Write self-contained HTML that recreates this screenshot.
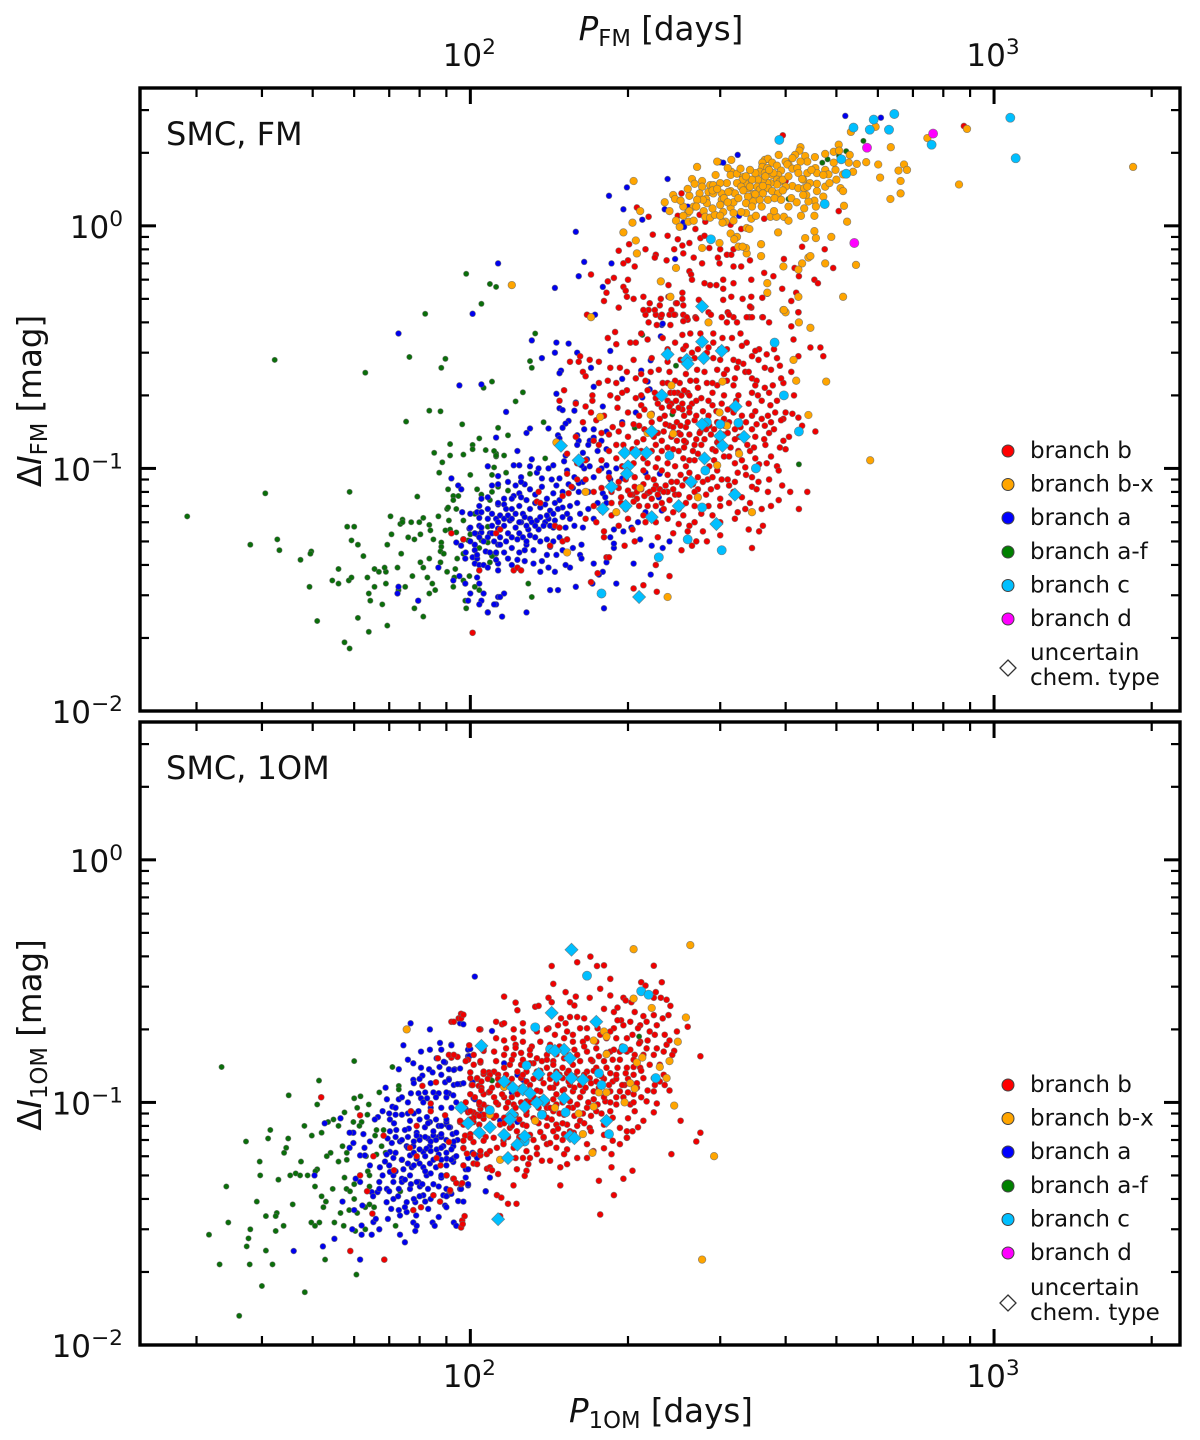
<!DOCTYPE html>
<html lang="en">
<head>
<meta charset="utf-8">
<title>SMC amplitude-period diagram</title>
<style>
html,body{margin:0;padding:0;background:#fff;}
svg{display:block;font-family:"DejaVu Sans","Liberation Sans",sans-serif;fill:#111;}
</style>
</head>
<body>
<svg id="chart" xmlns="http://www.w3.org/2000/svg" width="1200" height="1440" viewBox="0 0 1200 1440">
<rect x="0" y="0" width="1200" height="1440" fill="#fff"/>
<g id="marks-fm"></g>
<g id="marks-om"></g>
<g id="axes"></g>

<text x="661" y="40" font-size="32.500" text-anchor="middle"><tspan font-style="italic">P</tspan><tspan font-size="22.700" dy="6">FM</tspan><tspan dy="-6"> [days]</tspan></text>
<text x="661" y="1422" font-size="32.500" text-anchor="middle"><tspan font-style="italic">P</tspan><tspan font-size="22.700" dy="6">1OM</tspan><tspan dy="-6"> [days]</tspan></text>
<text transform="translate(41,401) rotate(-90)" font-size="32.500" text-anchor="middle">Δ<tspan font-style="italic">I</tspan><tspan font-size="22.700" dy="6">FM</tspan><tspan dy="-6"> [mag]</tspan></text>
<text transform="translate(41,1035) rotate(-90)" font-size="32.500" text-anchor="middle">Δ<tspan font-style="italic">I</tspan><tspan font-size="22.700" dy="6">1OM</tspan><tspan dy="-6"> [mag]</tspan></text>

<text x="166" y="145" font-size="32">SMC, FM</text>
<text x="166" y="779" font-size="32">SMC, 1OM</text>

<g font-size="23">
<g><circle cx="1008" cy="451" r="6" fill="#f00" stroke="#444" stroke-width="1"/><text x="1030" y="458">branch b</text></g>
<g><circle cx="1008" cy="484.500" r="6" fill="#ffa500" stroke="#444" stroke-width="1"/><text x="1030" y="491.500">branch b-x</text></g>
<g><circle cx="1008" cy="518" r="6" fill="#00f" stroke="#444" stroke-width="1"/><text x="1030" y="525">branch a</text></g>
<g><circle cx="1008" cy="552" r="6" fill="#008000" stroke="#444" stroke-width="1"/><text x="1030" y="559">branch a-f</text></g>
<g><circle cx="1008" cy="585.500" r="6" fill="#00bfff" stroke="#444" stroke-width="1"/><text x="1030" y="592.500">branch c</text></g>
<g><circle cx="1008" cy="619" r="6" fill="#f0f" stroke="#444" stroke-width="1"/><text x="1030" y="626">branch d</text></g>
<g><polygon points="1008,660 1016,668 1008,676 1000,668" fill="#fff" stroke="#333" stroke-width="1.300"/><text x="1030" y="660">uncertain</text><text x="1030" y="685">chem. type</text></g>
</g>
<g font-size="23">
<g><circle cx="1008" cy="1085" r="6" fill="#f00" stroke="#444" stroke-width="1"/><text x="1030" y="1092">branch b</text></g>
<g><circle cx="1008" cy="1118.500" r="6" fill="#ffa500" stroke="#444" stroke-width="1"/><text x="1030" y="1125.500">branch b-x</text></g>
<g><circle cx="1008" cy="1152" r="6" fill="#00f" stroke="#444" stroke-width="1"/><text x="1030" y="1159">branch a</text></g>
<g><circle cx="1008" cy="1186" r="6" fill="#008000" stroke="#444" stroke-width="1"/><text x="1030" y="1193">branch a-f</text></g>
<g><circle cx="1008" cy="1219.500" r="6" fill="#00bfff" stroke="#444" stroke-width="1"/><text x="1030" y="1226.500">branch c</text></g>
<g><circle cx="1008" cy="1253" r="6" fill="#f0f" stroke="#444" stroke-width="1"/><text x="1030" y="1260">branch d</text></g>
<g><polygon points="1008,1295 1016,1303 1008,1311 1000,1303" fill="#fff" stroke="#333" stroke-width="1.300"/><text x="1030" y="1295">uncertain</text><text x="1030" y="1320">chem. type</text></g>
</g>
</svg>

<script>
// Tick values
const xMajorTicks = [100, 1000];
const xMinorTicks = [30, 40, 50, 60, 70, 80, 90, 200, 300, 400, 500, 600, 700, 800, 900, 2000];
const yMajorTicks = [1, 0.1, 0.01];
const yMinorTicks = [3, 2, 0.9, 0.8, 0.7, 0.6, 0.5, 0.4, 0.3, 0.2, 0.09, 0.08, 0.07, 0.06, 0.05, 0.04, 0.03, 0.02];
const xTickExponents = ['2', '3'];
const yTickExponents = ['0', '\u22121', '\u22122'];

// FM panel: [period in days, amplitude in mag]
const fmBranchAF = [[28.8,.0634],[38,.0485],[40.6,.079],[42.8,.051],[43.2,.046],[42.3,.28],[47.4,.042],[49.7,.0455],[49.5,.0445],[49.3,.0325],[51,.0235],[57.5,.0192],[58.8,.0181],[64,.0212],[61,.0242],[69.4,.0225],[56,.0385],[54.5,.0345],[56,.0335],[58.6,.0345],[59.3,.0355],[58.2,.0575],[60,.0575],[59.3,.0505],[61,.0485],[62.5,.0435],[58.8,.08],[63,.248],[63.6,.0355],[65.6,.0325],[64,.0305],[64.4,.0285],[67.9,.0275],[69,.0335],[69,.0375],[66.9,.0375],[65.6,.0385],[68.6,.039],[72.6,.039],[69.4,.0485],[70.7,.0535],[70.4,.0635],[73.8,.0445],[74.2,.0615],[73.5,.059],[74.2,.06],[77.1,.06],[79.9,.06],[76.1,.052],[78.2,.051],[80.3,.0535],[81.3,.0625],[79.2,.0765],[75.1,.0325],[72.9,.0315],[77.5,.036],[80.3,.041],[81.3,.039],[83.5,.0425],[78.2,.0265],[81.3,.0245],[82.8,.0355],[84.6,.0335],[85.7,.0315],[83.5,.0305],[82,.434],[76.5,.288],[89.6,.283],[88,.26],[83.5,.173],[87.7,.172],[75.4,.156],[96.5,.152],[98.2,.634],[109,.576],[112,.56],[105,.477],[106,.215],[110,.228],[113,.147],[104,.133],[101,.125],[101,.12],[91.5,.126],[85.3,.116],[91.5,.113],[97,.114],[107,.119],[112,.115],[112,.112],[88.4,.106],[87.2,.096],[100,.094],[111,.101],[110,.094],[90.7,.082],[92.8,.077],[92.8,.074],[94.9,.077],[103,.082],[105,.078],[110,.08],[113,.084],[109,.074],[90.3,.068],[90.7,.069],[94,.068],[86.9,.0635],[91,.061],[97,.061],[102,.065],[83.5,.0585],[83.9,.0555],[85,.051],[89.6,.0555],[91.5,.056],[94,.0545],[100,.0535],[99.1,.0505],[88,.0495],[88,.0475],[87.7,.0455],[89,.0445],[94.4,.0425],[87.7,.041],[97,.0445],[90.3,.0375],[93.6,.0385],[92.8,.0325],[93.2,.0355],[97,.0345],[99.6,.036],[102,.0325],[104,.0315],[97.8,.0285],[98.2,.0265],[105,.0505],[108,.0495],[104,.047],[110,.044],[109,.041],[133,.36],[130,.277],[131,.26],[126,.206],[122,.189],[138,.155],[118,.137],[111,.118],[112,.113],[116,.113],[139,.11],[117,.096],[130,.095],[118,.081],[108,.0575],[110,.0435],[112,.0445],[129,.0335],[131,.0295],[424,.104],[243,.167],[247,.265],[206,.147],[213,.355],[405,1.29],[470,1.82],[481,1.88],[506,1.94],[522,2.03],[563,2.24]];
const fmBranchA = [[113,.7],[101,.434],[72.9,.36],[95.3,.22],[105,.222],[112,.134],[108,.102],[113,.093],[92,.091],[94.8,.085],[96.1,.082],[113,.086],[108,.076],[113,.071],[96.5,.066],[103,.066],[105,.066],[104,.0625],[104,.058],[105,.0545],[103,.0535],[99.6,.0565],[110,.058],[109,.054],[113,.0565],[94,.0495],[102,.0485],[102,.046],[107,.0455],[113,.0485],[112,.045],[101,.043],[103,.0425],[102,.0405],[104,.04],[106,.04],[108,.039],[113,.0405],[113,.038],[97.8,.0425],[86.9,.039],[95.3,.036],[92.8,.0345],[97.8,.0335],[104,.0335],[103,.0355],[106,.0305],[100,.0305],[72.9,.0325],[72.6,.0305],[79.5,.0285],[99,.0285],[105,.0285],[104,.0275],[113,.0295],[112,.0275],[108,.0255],[131,.337],[146,.33],[154,.327],[145,.3],[137,.285],[160,.3],[149,.253],[148,.247],[170,.26],[117,.171],[172,.217],[195,.234],[221,.279],[185,.305],[212,.253],[231,.35],[232,.39],[218,.228],[220,.212],[146,.203],[148,.177],[150,.174],[159,.187],[158,.173],[179,.18],[207,.17],[213,.196],[141,.146],[130,.146],[128,.14],[154,.157],[152,.153],[150,.147],[147,.137],[148,.133],[160,.137],[161,.13],[172,.134],[169,.13],[182,.142],[195,.155],[123,.118],[152,.113],[151,.107],[175,.118],[182,.12],[164,.116],[167,.109],[169,.102],[121,.103],[124,.103],[131,.109],[130,.102],[144,.103],[141,.1],[153,.098],[184,.096],[182,.103],[216,.096],[230,.095],[195,.091],[125,.092],[127,.086],[125,.088],[134,.096],[137,.091],[137,.084],[130,.082],[146,.085],[148,.091],[154,.086],[157,.083],[164,.088],[161,.087],[144,.079],[150,.08],[161,.08],[168,.08],[124,.079],[121,.077],[125,.076],[113,.072],[116,.071],[120,.075],[133,.072],[139,.071],[148,.074],[179,.079],[181,.076],[182,.072],[229,.076],[150,.069],[153,.065],[142,.067],[144,.065],[136,.069],[126,.065],[130,.062],[122,.065],[117,.068],[114,.064],[112,.062],[116,.062],[119,.061],[125,.06],[134,.061],[139,.06],[141,.062],[100,.057],[102,.054],[105,.057],[110,.054],[114,.056],[118,.054],[123,.051],[129,.056],[130,.053],[135,.056],[140,.051],[142,.048],[144,.057],[152,.057],[164,.057],[188,.056],[196,.055],[203,.057],[209,.06],[211,.051],[240,.05],[232,.067],[222,.048],[233,.047],[216,.066],[114,.0485],[118,.0425],[123,.042],[128,.0485],[132,.046],[127,.0415],[132,.0405],[142,.0475],[137,.0415],[141,.039],[136,.0375],[145,.0375],[157,.047],[163,.0485],[162,.044],[163,.0425],[155,.039],[152,.04],[172,.0405],[182,.041],[179,.0375],[188,.047],[188,.049],[185,.052],[205,.0405],[221,.0365],[176,.0365],[190,.0335],[171,.0335],[159,.0325],[142,.0315],[147,.0315],[116,.0305],[114,.0295],[111,.0275],[108,.0255],[115,.0245],[128,.0255],[180,.0265],[520,2.84],[608,2.79],[324,1.96],[300,1.83],[304,1.82],[238,1.56],[184,1.33],[199,1.44],[196,1.17],[235,1.17],[213,1.06],[159,.945],[165,.71],[161,.62],[145,.555],[186,.7],[179,.56],[246,.73],[260,1.2],[255,1.03],[256,.99],[326,1.1],[173,.43],[233,.395],
[104,.07],[108,.068],[110,.065],[113,.06],[116,.058],[118,.064],[120,.062],[122,.057],[124,.06],[127,.063],[128,.058],[131,.06],[133,.058],[136,.063],[138,.058],[142,.058],[145,.061],[147,.068],[150,.063],[155,.062],[158,.058],[162,.065],[108,.052],[111,.05],[114,.052],[117,.05],[120,.052],[124,.054],[126,.052],[128,.05],[133,.052],[136,.05],[144,.05],[148,.052],[120,.047],[124,.045],[127,.046],[116,.045],[112,.042],[109,.045],[120,.04],[140,.044],[146,.044],[150,.046],[104,.052],[108,.062],[116,.075],[124,.07],[128,.074],[133,.078],[140,.075],[145,.072],[155,.07],[160,.072],[168,.068],[175,.072],[172,.062],[120,.068],[130,.068],[140,.064],[185,.09],[178,.1],[172,.092],[190,.1],[165,.1],[158,.092],[163,.103],[135,.1],[143,.09],[122,.085],[118,.088],[110,.085],[105,.075],[100,.065],[100,.05],[106,.05],[98,.045],[96,.048],[103,.044],[160,.125],[168,.125],[178,.13],[172,.145],[165,.145]];
const fmBranchB = [[395,2.36],[876,2.58],[253,1.36],[285,1.37],[281,1.29],[271,1.29],[208,1.19],[219,1.09],[249,1.1],[274,1.11],[281,1.04],[314,1.01],[269,.97],[329,.97],[400,1.53],[505,1.15],[364,1.07],[223,.92],[238,.91],[249,.88],[201,.84],[192,.79],[216,.8],[226,.76],[225,.74],[200,.72],[196,.7],[206,.68],[237,.72],[245,.8],[254,.83],[255,.77],[267,.74],[262,.85],[275,.89],[280,.91],[286,.81],[300,.8],[318,.8],[297,.74],[299,.7],[277,.7],[309,.76],[315,.76],[318,.68],[329,.68],[342,.72],[397,.73],[430,.82],[475,.8],[493,.67],[416,.67],[424,.62],[454,.6],[461,.58],[364,.64],[379,.62],[344,.6],[304,.6],[318,.58],[262,.65],[264,.63],[265,.6],[280,.58],[287,.57],[295,.57],[304,.55],[170,.63],[188,.61],[183,.59],[200,.6],[196,.56],[198,.54],[199,.51],[182,.53],[180,.49],[205,.5],[192,.46],[214,.51],[220,.48],[219,.45],[216,.43],[230,.47],[231,.5],[239,.57],[239,.51],[247,.48],[255,.47],[254,.53],[254,.5],[226,.43],[231,.42],[240,.43],[246,.43],[255,.43],[260,.41],[269,.42],[273,.495],[285,.44],[288,.43],[304,.495],[315,.51],[331,.5],[344,.51],[344,.46],[361,.505],[369,.525],[394,.55],[419,.53],[410,.49],[423,.44],[310,.44],[318,.42],[302,.42],[341,.42],[361,.42],[167,.43],
[214,.45],[225,.45],[242,.45],[248,.48],[259,.42],[255,.405],[270,.415],[245,.43],[232,.43],[312,.43],[323,.4],[309,.4],[328,.36],[316,.345],[303,.345],[291,.33],[291,.36],[275,.36],[263,.36],[254,.355],[241,.39],[227,.39],[219,.4],[202,.33],[207,.33],[189,.365],[190,.325],[183,.345],[212,.36],[218,.34],[233,.345],[246,.33],[255,.31],[265,.3],
[342,.465],[362,.42],[372,.4],[337,.42],[345,.42],[410,.385],[423,.44],[414,.34],[446,.315],[466,.315],[472,.29],[423,.29],[337,.33],[368,.295],[356,.31],[345,.29],[332,.27],[318,.28],[309,.31],[291,.285],[283,.3],[272,.31],[271,.255],[296,.255],[309,.255],[323,.26],[335,.25],[365,.26],[390,.265],[345,.235],[378,.22],[365,.215],[354,.2],[396,.225],[318,.22],[309,.23],[296,.22],[283,.225],[272,.215],[263,.23],[251,.225],[241,.205],[249,.205],[260,.205],[233,.225],[221,.25],[229,.255],[207,.235],[199,.25],[193,.26],[183,.23],[176,.225],[169,.28],[176,.275],[162,.29],[155,.275],[161,.275],[164,.25],[166,.24],[151,.21],[148,.19],[171,.2],[171,.19],[185,.2],[191,.195],[199,.21],[207,.195],[218,.21],[226,.195],[238,.19],
[159,.185],[166,.18],[191,.178],[200,.17],[212,.182],[222,.168],[232,.178],[242,.185],[254,.175],[265,.185],[278,.172],[290,.182],[300,.17],[316,.178],[330,.165],[350,.172],[374,.182],[396,.16],[370,.165],[412,.168],[423,.162],
[164,.155],[174,.158],[187,.148],[205,.152],[215,.145],[230,.16],[240,.15],[248,.155],[258,.148],[268,.158],[286,.15],[292,.145],[312,.155],[328,.148],[352,.152],[380,.145],[392,.158],[456,.142],[430,.15],
[159,.135],[172,.13],[184,.138],[196,.125],[208,.128],[224,.135],[238,.122],[248,.13],[262,.138],[268,.125],[280,.132],[296,.128],[304,.138],[314,.122],[326,.135],[338,.125],[364,.132],[390,.122],[406,.135],[258,.128],[234,.142],[250,.14],[275,.142],[290,.12],
[153,.115],[166,.108],[184,.118],[195,.102],[214,.11],[238,.105],[250,.118],[262,.108],[272,.115],[286,.102],[305,.112],[320,.105],[342,.118],[356,.104],[375,.112],[385,.102],[222,.118],[255,.11],[282,.11],[226,.101],[240,.114],[335,.101],
[153,.095],[166,.09],[176,.098],[192,.088],[218,.092],[232,.098],[242,.088],[252,.094],[272,.092],[296,.098],[310,.09],[336,.094],[355,.088],[388,.098],[262,.096],[284,.09],[200,.096],[324,.096],
[156,.084],[172,.08],[192,.083],[204,.078],[214,.086],[222,.075],[230,.082],[246,.078],[254,.085],[262,.076],[288,.082],[300,.075],[312,.085],[330,.076],[345,.084],[370,.08],[394,.085],[388,.074],[408,.08],[440,.08],[238,.08],[206,.084],[218,.079],[226,.085],[240,.074],[208,.075],[272,.082],
[134,.073],[172,.07],[178,.067],[194,.072],[214,.064],[226,.07],[244,.066],[258,.072],[276,.065],[300,.07],[324,.066],[342,.072],[360,.068],[375,.07],[210,.07],[232,.072],
[145,.058],[174,.06],[180,.055],[192,.058],[204,.056],[226,.06],[244,.054],[262,.058],[278,.055],[300,.06],[340,.056],[356,.055],[250,.059],
[150,.05],[180,.052],[197,.048],[206,.05],[228,.052],[253,.046],[265,.048],[283,.05],[300,.053],[345,.047],[424,.068],[270,.05],[260,.055],[97,.051],[135,.08],[136,.072],[114,.056],[121,.038],[123,.039],[104,.038],[150,.077],[154,.079],[142,.048],[148,.057],[153,.051],[125,.038],[101,.021],[92,.054],[97,.051],[112,.054],[182,.043],[184,.043],[175,.037],[170,.034],[205,.032],[214,.033],[226,.04],[227,.031],[240,.036],
[238,.31],[258,.32],[285,.315],[300,.31],[330,.32],[350,.305],[380,.31],[205,.28],[222,.285],[238,.275],[252,.28],[268,.285],[300,.28],[325,.275],[355,.28],[385,.285],[185,.26],[212,.245],[240,.25],[258,.245],[280,.25],[305,.245],[340,.25],[375,.255],[410,.25],[190,.225],[216,.23],[238,.225],[246,.23],[270,.23],[290,.225],[320,.235],[352,.23],[392,.235],[350,.22],[195,.205],[212,.2],[225,.205],[245,.205],[253,.2],[256,.21],[262,.2],[276,.195],[290,.205],[305,.2],[325,.2],[345,.205],[372,.205],[415,.2],[228,.185],[240,.18],[247,.19],[250,.178],[254,.185],[262,.178],[270,.19],[285,.19],[302,.185],[310,.175],[322,.19],[340,.185],[360,.19],[385,.19],[215,.175],[170,.17],[180,.165],[210,.165],[235,.165],[244,.172],[256,.165],[262,.17],[270,.165],[285,.165],[295,.172],[305,.16],[318,.17],[345,.165],[360,.16],[382,.17],[400,.17],[195,.152],[210,.15],[222,.155],[236,.152],[244,.148],[252,.15],[260,.155],[276,.152],[282,.145],[296,.155],[306,.15],[320,.145],[336,.155],[345,.145],[365,.15],[375,.155],[178,.14],[192,.142],[200,.135],[214,.132],[228,.14],[232,.13],[242,.135],[252,.138],[256,.13],[270,.132],[274,.14],[288,.138],[298,.13],[310,.14],[320,.132],[350,.135],[372,.14],[396,.13],[176,.125],[190,.125],[204,.12],[212,.118],[226,.125],[232,.118],[244,.12],[256,.122],[266,.118],[276,.125],[294,.118],[302,.124],[325,.118],[348,.122],[366,.125],[400,.12],[160,.105],[178,.108],[190,.11],[205,.105],[218,.105],[228,.11],[246,.102],[258,.102],[268,.108],[292,.108],[312,.112],[330,.108],[350,.11],[368,.105],[160,.09],[184,.092],[198,.09],[206,.092],[214,.098],[224,.09],[238,.094],[248,.088],[258,.09],[266,.086],[278,.088],[290,.092],[302,.09],[320,.088],[345,.092],[372,.09],[178,.083],[186,.08],[194,.076],[200,.081],[202,.078],[208,.08],[212,.082],[215,.077],[220,.08],[224,.082],[228,.078],[234,.08],[236,.085],[244,.082],[250,.078],[268,.08],[282,.078],[296,.084],[318,.08],[352,.082],[186,.072],[198,.068],[205,.073],[218,.07],[234,.068],[250,.068],[268,.07],[285,.07],[312,.072],[335,.068],[166,.062],[186,.064],[200,.062],[216,.06],[238,.062],[255,.064],[268,.06],[290,.064],[320,.062],[362,.058]];
const fmBranchBX = [[1843,1.75],[888,2.51],[857,1.48],[746,2.3],[635,2.11],[594,2.56],[533,2.44],[601,1.79],[570,1.83],[673,1.79],[682,1.7],[657,1.69],[663,1.53],[606,1.58],[663,1.36],[634,1.29],[505,2.16],[494,2.02],[506,2.04],[530,1.96],[528,1.82],[547,1.8],[538,1.67],[515,1.63],[494,1.82],[476,1.98],[455,1.92],[427,2.11],[425,2.04],[417,1.96],[412,1.9],[436,1.94],[388,1.96],[440,1.84],[427,1.84],[400,1.84],[405,1.79],[365,1.87],[370,1.89],[361,1.82],[377,1.82],[385,1.77],[361,1.75],[369,1.73],[392,1.69],[357,1.67],[365,1.65],[377,1.62],[387,1.62],[403,1.79],[412,1.72],[421,1.73],[423,1.65],[440,1.65],[456,1.73],[459,1.65],[476,1.7],[483,1.63],[472,1.62],[432,1.55],[430,1.56],[459,1.49],[476,1.45],[459,1.39],[509,1.43],[515,1.39],[472,1.32],[454,1.27],[442,1.26],[457,1.2],[517,1.21],[434,1.18],[428,1.1],[454,1.1],[524,1.04],[412,1.46],[423,1.43],[434,1.43],[438,1.34],[432,1.34],[379,1.65],[385,1.55],[390,1.52],[385,1.48],[374,1.5],[369,1.5],[362,1.55],[354,1.55],[353,1.45],[357,1.41],[370,1.43],[377,1.39],[387,1.36],[362,1.36],[347,1.35],[339,1.43],[335,1.5],[345,1.55],[315,1.67],[314,1.62],[323,1.64],[332,1.59],[331,1.55],[323,1.5],[314,1.39],[320,1.36],[329,1.45],[339,1.32],[347,1.26],[357,1.28],[370,1.28],[381,1.3],[392,1.28],[277,1.53],[277,1.45],[287,1.47],[291,1.47],[294,1.62],[265,1.56],[268,1.49],[274,1.36],[282,1.29],[285,1.38],[291,1.36],[302,1.36],[311,1.38],[309,1.5],[302,1.28],[300,1.22],[283,1.24],[278,1.28],[271,1.28],[262,1.33],[244,1.34],[246,1.29],[336,1.24],[336,1.13],[315,1.87],[310,1.73],[271,1.75],[296,1.84],[279,1.15],[281,1.09],[287,1.08],[293,1.11],[304,1.14],[314,1.19],[318,1.13],[307,1.04],[303,1.03],[329,1.14],[255,1.2],[267,1.2],[260,1.13],[247,1.05],[261,1.04],[267,1.05],[251,.99],[344,1.07],[351,1.1],[374,1.09],[384,1.09],[397,1.09],[405,1.05],[337,.98],[341,.97],[314,.93],[323,.9],[319,.88],[299,.85],[387,.94],[359,.84],[436,.89],[457,.89],[454,.95],[489,.9],[211,1.15],[204,1.03],[196,.94],[207,.87],[205,1.53],[208,.77],[247,.67],[231,.59],[241,.51],[325,.82],[337,.77],[336,.81],[331,.82],[277,.81],[359,.75],[396,.68],[430,.7],[442,.74],[446,.75],[476,.7],[545,.69],[423,.66],[369,.58],[369,.53],[515,.51],[423,.51],[396,.45],[400,.44],[424,.4],[446,.38],[285,.4],[120,.57],[170,.42],[397,.45],[414,.28],[419,.23],[478,.228],[303,.228],[242,.22],[299,.17],[442,.166],[177,.163],[221,.166],[309,.15],[244,.139],[218,.14],[326,.115],[296,.103],[211,.083],[166,.08],[272,.076],[345,.066],[190,.066],[146,.128],[153,.045],[238,.0295],[580,.108],
[300,1.5],[290,1.4],[296,1.42],[305,1.3],[318,1.25],[325,1.3],[332,1.4],[342,1.45],[350,1.35],[362,1.46],[366,1.6],[372,1.7],[350,1.65],[342,1.7],[336,1.6],[328,1.72],[395,1.55],[405,1.6],[400,1.45],[410,1.3],[420,1.25],[395,1.4],[445,1.5],[448,1.7],[440,1.45],[485,1.5],[498,1.7],[500,1.55],[270,1.2],[262,1.15],[255,1.1],[300,1.1],[290,1.18],[310,1.25],[318,1.05],[345,1.2],[360,1.2],[380,1.15],[405,1.2],[260,1.42],[252,1.27],[240,1.15],[235,1.25]];
const fmBranchC = [[389,2.26],[539,2.54],[589,2.74],[579,2.49],[630,2.49],[645,2.89],[1074,2.79],[1100,1.9],[760,2.16],[475,1.23],[511,1.88],[522,1.64],[288,.88],[381,.33],[397,.2],[325,.154],[424,.142],[300,.152],[283,.155],[281,.098],[351,.1],[277,.069],[260,.051],[302,.046],[229,.043],[178,.0305],[240,.113]];
const fmBranchD = [[572,2.1],[765,2.4],[541,.85]];
const fmUncertainC = [[277,.465],[277,.333],[302,.305],[238,.295],[259,.28],[260,.27],[279,.285],[232,.2],[321,.18],[277,.152],[222,.142],[300,.136],[333,.135],[303,.124],[149,.124],[280,.11],[161,.108],[197,.116],[207,.116],[217,.116],[200,.102],[199,.095],[264,.088],[186,.084],[320,.078],[179,.068],[198,.07],[250,.07],[222,.063],[295,.059],[210,.0295]];

// 1OM panel: [period in days, amplitude in mag]
const omBranchAF = [[33.5,.14],[31.7,.0285],[34.2,.045],[37.3,.069],[41.5,.077],[41.1,.071],[45,.107],[51.4,.123],[51,.098],[60,.148],[71,.14],[67,.11],[73,.117],[73,.113],[61.7,.106],[60,.104],[64,.098],[60.8,.095],[63.6,.089],[57.5,.091],[54.8,.085],[53.5,.083],[56,.08],[48.2,.08],[59.8,.083],[62,.083],[61.4,.08],[52,.075],[49.8,.073],[44.9,.071],[44.5,.065],[44.1,.062],[39.6,.057],[39.7,.05],[43,.048],[47.5,.057],[45.3,.05],[46.4,.051],[47.3,.05],[48.9,.05],[51,.053],[50.6,.052],[50.5,.045],[54.1,.062],[53.2,.06],[56,.057],[57,.066],[58.1,.062],[58.1,.058],[59.5,.075],[66.2,.077],[68.3,.077],[65.8,.073],[67.7,.066],[68.9,.062],[66.2,.061],[63.2,.06],[63.7,.052],[64.2,.05],[64.2,.045],[57.5,.049],[54.6,.044],[58,.044],[58.9,.043],[60,.046],[52,.041],[53,.039],[52.4,.037],[45.8,.038],[39.1,.039],[42.7,.035],[42.5,.034],[40.7,.034],[34.5,.032],[38,.03],[42.5,.0295],[44,.031],[49.7,.032],[50.5,.031],[51.5,.032],[55,.032],[57.3,.031],[37.7,.0275],[37.4,.0255],[40.7,.0245],[33.2,.0215],[37.9,.0215],[41.9,.0215],[52.8,.0225],[60.6,.0195],[40,.0175],[48.3,.0165],[36.2,.0132],[56.5,.035],[58.7,.036],[60,.04],[60.8,.035],[63,.037],[64.2,.038],[65.5,.037],[63,.03],[60.3,.0295],[72,.031],[73.5,.043],[109,.125],[210,.187],[110,.123]];
const omBranchA = [[76.9,.212],[83.7,.2],[95.6,.212],[74.5,.172],[80.5,.162],[83.7,.165],[87.5,.176],[88,.165],[92,.173],[99,.165],[76,.15],[77.8,.145],[80.5,.139],[86.2,.152],[89.5,.146],[87.3,.14],[91,.137],[93.3,.137],[95.6,.138],[99,.155],[73,.137],[83.4,.137],[84.7,.133],[81,.129],[77.8,.124],[78,.12],[91,.125],[89.5,.121],[93,.118],[95.6,.119],[101.4,.104],[68.9,.115],[77,.109],[79.6,.109],[85,.11],[87,.109],[91,.109],[92.8,.107],[80.5,.104],[82.7,.104],[81.3,.1],[69.3,.103],[71,.096],[73,.103],[68,.092],[66.6,.087],[65.7,.085],[72,.089],[74,.089],[56.5,.086],[52.7,.082],[70.2,.085],[71.5,.082],[76.7,.084],[76.3,.078],[75,.077],[72.2,.077],[70.2,.076],[62.5,.074],[59.8,.075],[58.8,.075],[64.3,.069],[62.8,.065],[59.8,.068],[58.8,.065],[79.6,.092],[82.6,.087],[83.7,.083],[87,.08],[90.1,.081],[91.5,.079],[81.9,.079],[79,.075],[80.1,.072],[83,.071],[85,.073],[87,.072],[92.5,.074],[94.5,.07],[92.8,.066],[69.5,.071],[70.8,.068],[73.4,.069],[70.2,.0625],[75.6,.066],[77.8,.066],[83.7,.066],[86.2,.064],[88.8,.066],[61.6,.0605],[62.9,.0605],[64.3,.055],[67.2,.054],[69.2,.061],[68.7,.057],[71.3,.059],[74,.058],[76.7,.0605],[79,.0586],[81.3,.0625],[82.5,.0645],[90.1,.0586],[92.8,.0568],[98,.053],[83.7,.056],[81.3,.054],[77.3,.054],[74.5,.053],[71.3,.052],[71.3,.05],[70.2,.0517],[74,.0485],[76.7,.05],[79.6,.047],[82.5,.05],[80.1,.045],[76.7,.044],[74,.047],[71.3,.047],[67,.047],[61.6,.047],[60.4,.0485],[64.8,.0427],[66.5,.0427],[69.3,.044],[57,.039],[60,.036],[62.2,.0376],[65.2,.041],[69.2,.0388],[71.3,.04],[72.8,.041],[70.6,.0364],[73.4,.0342],[75.6,.0353],[78.8,.0342],[75.6,.0388],[78.5,.0388],[81.3,.0414],[85,.0414],[88.8,.0414],[90.5,.0414],[89.5,.0376],[83.1,.0364],[87,.0337],[84.7,.032],[85.5,.031],[93,.032],[94.8,.0392],[77.8,.032],[79,.031],[78.5,.0295],[73.4,.0285],[75,.0265],[64.8,.0285],[62,.0311],[62,.0285],[67,.03],[59.5,.03],[65.3,.0321],[66,.0331],[69.6,.0331],[55,.0274],[52.3,.0255],[46,.0244],[61.6,.0225],[50.4,.05],[107,.043],[99,.059],[102.5,.0605],[99,.0455],[95.6,.044],
[102,.33],[97,.21],[110,.197],[92,.172],[100,.166],[99.6,.155],[98.7,.15],[89,.147],[93,.136],[91,.124],[94.5,.119],[97,.12],[101,.121],[102,.103],[98,.094],[90,.105],[105,.089],[114,.084],[123,.083],[96,.083],[91,.079],[90,.083],[94,.075],[88,.072],[93,.069],[88,.065],[97,.065],[101,.062],[93,.059],[103,.059],[99,.053],[98,.049],[88,.049],[90,.05],[99,.046],[90,.044],[92,.042],[96,.044],[97,.039],[90,.041],[90,.037],[94,.031],[109,.049],[107,.043],[116,.145],[120,.11],[118,.1],[123,.13],[126,.124],
[72,.072],[74,.07],[76,.072],[78,.069],[79,.073],[80,.07],[82,.072],[84,.069],[85,.076],[86,.07],[88,.074],[90,.07],[76,.065],[78,.062],[80,.064],[82,.06],[84,.063],[85,.058],[87,.061],[88,.058],[72,.062],[74,.058],[76,.056],[78,.055],[80,.056],[82,.052],[84,.051],[86,.054],[88,.05],[70,.055],[72,.052],[68,.05],[75,.048],[77,.046],[79,.047],[81,.046],[83,.044],[85,.046],[87,.045],[73,.044],[70,.043],[67,.044],[78,.04],[80,.041],[82,.039],[84,.04],[75,.037],[73,.036],[90,.062],[92,.064],[94,.06],[90,.055],[92,.058],[88,.08],[90,.085],[86,.085],[83,.082],[80,.085],[78,.09],[76,.09],[72,.095],[70,.09],[84,.095],[88,.095],[92,.095],[94,.1],[90,.11],[86,.105],[82,.11],[76,.1],[74,.105],[80,.125],[84,.12],[88,.13]];
const omBranchB = [[92,.215],[96,.232],[95,.222],[104.5,.2],[51.9,.105],[61.6,.0885],[77,.092],[68.3,.073],[79,.08],[76.7,.065],[65.3,.06],[79,.06],[71.5,.0525],[61.6,.05],[86.2,.059],[87.7,.055],[92.8,.0485],[96,.046],[90.1,.05],[91.5,.043],[87.5,.039],[85,.0414],[63.5,.043],[65,.0348],[77.8,.036],[80.5,.037],[96.5,.0326],[96,.0305],[59,.0244],[68.5,.0225],[81,.117],[86,.121],[84,.092],[84,.099],[86.7,.152],[92,.153],[94.5,.154],[99.5,.172],[106,.163],[99,.15],[104.5,.146],[100,.133],[103,.125],[106,.131],[100.6,.118],[103.8,.117],[99,.091],[101.4,.091],[104.5,.094],[106,.0857],[101.4,.083],[95.6,.083],[97.7,.073],[101.4,.0687],[98.5,.0615],[101.4,.056],[104.5,.0605],[97,.055],[107,.072],[108.5,.133],[108.5,.11],[107.6,.0533],[91,.0687],[89.5,.0885],
[169.5,.399],[143,.365],[160,.378],[174.5,.365],[180,.367],[224,.366],[185,.323],[144,.308],[212,.313],[216,.303],[232,.313],[177,.294],[152,.285],[185,.276],[226,.285],[116,.273],[122,.258],[141,.27],[143,.259],[155,.259],[159,.273],[158,.251],[169,.27],[196,.27],[198,.263],[231,.27],[237,.265],[241,.25],[224,.27],[123,.24],[133,.248],[135,.25],[93,.215],[96,.222],[97,.23],[112,.215],[115,.21],[116,.212],[126,.212],[121,.2],[104,.2],[141,.202],[147,.208],[152,.212],[149,.222],[155,.225],[160,.225],[165,.222],[180,.243],[188,.236],[191,.246],[203,.259],[206,.236],[214,.227],[224,.229],[233,.222],[239,.229],[260,.205],[248,.196],[217,.215],[211,.208],[202,.215],[194,.218],[191,.218],
[153,.196],[162,.202],[167,.202],[175,.202],[188,.202],[196,.208],[209,.202],[227,.208],[220,.196],[204,.19],[185,.196],[177,.19],[167,.184],[157,.19],[151,.184],[145,.19],[140,.2],[134,.196],[126,.196],[121,.184],[116,.18],[112,.184],[106,.167],[111,.162],[101.5,.157],[104.5,.148],[91,.157],[93,.157],[98,.148],[101.5,.143],
[117,.167],[122,.173],[126,.178],[131,.17],[136,.178],[142,.173],[148,.17],[157,.178],[164,.178],[174,.178],[182,.184],[190,.184],[199,.184],[211,.178],[217,.167],[227,.167],[237,.173],[245,.163],[243,.157],[234,.162],[206,.157],[214,.157],[275,.155],[224,.157],
[112,.148],[116,.157],[121,.157],[125,.16],[130,.157],[134,.152],[140,.157],[144,.148],[151,.152],[160,.157],[167,.162],[174,.167],[185,.162],[193,.162],[199,.162],[205,.15],
[106,.134],[103,.126],[100,.126],[111,.134],[116,.139],[119,.143],[125,.143],[132,.145],[137,.148],[144,.143],[150,.139],[157,.143],[162,.148],[171,.148],[180,.148],[187,.15],[193,.15],[199,.139],[211,.139],[220,.143],[230,.143],
[105,.122],[109,.13],[113,.13],[117,.13],[123,.134],[128,.134],[134,.134],[140,.139],[146,.134],[153,.132],[160,.134],[167,.134],[174,.139],[182,.139],[191,.139],[205,.13],[214,.126],[224,.126],[234,.13],
[101,.118],[105,.115],[109,.111],[113,.118],[116,.115],[119,.118],[125,.126],[128,.122],[136,.126],[142,.13],[150,.126],[155,.118],[162,.118],[169,.126],[174,.122],[187,.122],[197,.118],[208,.115],
[106,.108],[102,.105],[104,.098],[111,.105],[116,.105],[123,.108],[128,.111],[136,.111],[144,.115],[151,.113],[157,.111],[164,.111],[172,.111],[185,.111],[193,.111],[205,.108],[224,.111],[217,.101],[227,.099],
[100,.092],[103,.089],[106,.098],[113,.098],[117,.095],[121,.098],[128,.101],[136,.103],[144,.103],[146,.108],[155,.101],[162,.105],[172,.103],[181,.101],[190,.105],[202,.098],[206,.092],[224,.091],[214,.084],[252,.084],
[101.5,.0865],[106,.089],[110.8,.0865],[116,.0865],[122,.089],[128,.089],[140,.095],[144,.092],[151,.089],[157,.095],[167,.095],[174,.092],[185,.092],[200,.086],[209,.079],[204,.076],[199,.076],[275,.075],[270,.069],
[97,.081],[100,.074],[104,.081],[95.6,.084],[114,.081],[119,.0785],[126,.081],[134,.083],[140,.0865],[146,.081],[153,.081],[162,.084],[169,.0785],[180,.081],[187,.0865],[193,.0785],[199,.0715],[187,.0695],[193,.0673],
[97,.0695],[100,.0715],[106,.0695],[110.8,.0715],[115.7,.0695],[122.7,.076],[130,.0735],[136,.0755],[138,.0715],[144,.076],[151,.074],[157.5,.075],[180,.0735],[199,.0715],[242,.0612],
[104.5,.063],[97,.0647],[101.5,.0612],[107.5,.0612],[109,.063],[112.4,.065],[115.7,.0673],[121,.065],[128,.063],[134,.065],[140,.0673],[146,.065],[153,.064],[167,.0673],[180,.0647],[186,.0612],
[103,.0557],[109,.054],[113,.0507],[110,.0525],[122,.059],[126,.059],[130,.059],[134,.0612],[137,.0575],[142,.0575],[151,.0612],[160,.059],[167,.059],[171.8,.063],[122.7,.053],[129,.0557],[128,.0523],[127,.0498],[148.5,.054],[153,.0557],[186,.054],[204,.0523],[196,.0485],[176,.0475],
[120.9,.0455],[148.5,.0455],[188,.0415],[112.4,.0415],[114.6,.0405],[118,.0382],[122.5,.0382],[177,.0345],[93,.0485],[94,.0465],[96.5,.0465],[97.5,.034],[96.7,.0315],[114,.034],[91.5,.0435],
[112,.1],[115,.108],[118,.1],[120,.105],[122,.095],[125,.1],[128,.092],[130,.1],[132,.105],[135,.095],[138,.09],[140,.1],[142,.095],[146,.098],[148,.09],[150,.1],[154,.095],[158,.088],[160,.098],[164,.09],[168,.1],[170,.088],[175,.098],[178,.09],[112,.088],[116,.082],[120,.08],[124,.085],[128,.08],[132,.086],[135,.082],[140,.08],[143,.085],[147,.078],[150,.082],[155,.076],[160,.08],[165,.082],[170,.076],[118,.072],[124,.072],[128,.07],[132,.07],[138,.072],[142,.068],[146,.072],[150,.07],[125,.115],[130,.118],[134,.112],[138,.12],[142,.115],[146,.12],[150,.112],[154,.122],[158,.115],[162,.125],[166,.115],[170,.12],[176,.115],[180,.125],[184,.118],[190,.125],[195,.118],[200,.125],[208,.12],[120,.125],[126,.13],[132,.125],[136,.135],[142,.125],[148,.13],[154,.135],[158,.128],[165,.13],[172,.135],[178,.128],[185,.132],[190,.13],[198,.132],[205,.14],[212,.135],[180,.105],[185,.1],[190,.098],[196,.105],[200,.11],[205,.1],[212,.105],[218,.112],[225,.118],[230,.122],[235,.118],[240,.112],[110,.115],[105,.112],[100,.108],[98,.1],[104,.1],[108,.095],[104,.088],[100,.085],[108,.125],[113,.125],[170,.15],[176,.155],[182,.16],[188,.165],[195,.17],[202,.165],[210,.175],[218,.18],[225,.19],[235,.19],[240,.18],[140,.15],[146,.158],[152,.162],[158,.165],[165,.17],[130,.145],[126,.15],[120,.15],[130,.165],[122,.168]];
const omBranchBX = [[205,.428],[263,.445],[205,.268],[222,.245],[258,.224],[249,.178],[240,.148],[237,.126],[208,.146],[213,.153],[182,.158],[172,.18],[180,.196],[182,.187],[202,.12],[206,.114],[182,.11],[176,.11],[197,.1],[245,.097],[164,.074],[171,.062],[292,.06],[277,.0225],[114,.058],[109,.089],[133,.084],[145,.095],[161,.09],[172,.096],[230,.14],[116,.116],[75.6,.2]];
const omBranchC = [[167,.333],[212,.287],[219,.278],[133,.204],[128,.142],[196,.167],[176,.132],[178,.118],[226,.126],[184,.074],[142,.166],[109,.093],[152,.091],[137,.089],[127,.069]];
const omBranchD = [];
const omUncertainC = [[156,.426],[143,.234],[174,.215],[105,.171],[151,.165],[145,.163],[155,.152],[135,.131],[146,.128],[156,.126],[164,.124],[116,.122],[126,.113],[130,.109],[120.5,.115],[151,.104],[138,.102],[134,.0995],[127,.096],[96,.095],[120,.089],[119,.085],[99,.082],[109,.079],[182,.084],[104,.075],[116,.0735],[127,.0725],[155,.0725],[158,.0712],[123,.067],[118,.059],[113,.033]];

const SVG_NS = 'http://www.w3.org/2000/svg';
const xDomain = [23.4, 2265];
const yDomain = [0.01, 3.7];
const plotLeft = 140;
const plotRight = 1180;
const panels = [
  {name: 'fm', top: 88, bottom: 711},
  {name: '1om', top: 722, bottom: 1345}
];

function xScale(p) {
  const a = Math.log10(xDomain[0]);
  const b = Math.log10(xDomain[1]);
  return plotLeft + (Math.log10(p) - a) / (b - a) * (plotRight - plotLeft);
}
function yScale(v, panel) {
  const a = Math.log10(yDomain[0]);
  const b = Math.log10(yDomain[1]);
  return panel.bottom - (Math.log10(v) - a) / (b - a) * (panel.bottom - panel.top);
}

function drawCircles(parent, points, panel, fill, r, label) {
  points.forEach(function (pt) {
    const el = document.createElementNS(SVG_NS, 'circle');
    
    
    el.setAttribute('cx', xScale(pt[0]).toFixed(1));
    el.setAttribute('cy', yScale(pt[1], panel).toFixed(1));
    el.setAttribute('r', r);
    el.setAttribute('fill', fill);
    el.setAttribute('stroke', '#666');
    el.setAttribute('stroke-opacity', '0.7');
    el.setAttribute('stroke-width', '0.7');
    parent.appendChild(el);
  });
}
function drawDiamonds(parent, points, panel, fill, d, label) {
  points.forEach(function (pt) {
    const cx = xScale(pt[0]);
    const cy = yScale(pt[1], panel);
    const el = document.createElementNS(SVG_NS, 'polygon');
    
    
    el.setAttribute('points', [cx, cy - d, cx + d, cy, cx, cy + d, cx - d, cy].map(function (n) { return n.toFixed(1); }).join(' '));
    el.setAttribute('fill', fill);
    el.setAttribute('stroke', '#666');
    el.setAttribute('stroke-opacity', '0.7');
    el.setAttribute('stroke-width', '0.7');
    parent.appendChild(el);
  });
}
function drawSeries(groupId, panel, s) {
  const g = document.getElementById(groupId);
  drawCircles(g, s.af, panel, '#0a6e0a', 2.7, 'branch-a-f-point');
  drawCircles(g, s.a, panel, '#0000ee', 2.9, 'branch-a-point');
  drawCircles(g, s.b, panel, '#f00000', 3, 'branch-b-point');
  drawCircles(g, s.bx, panel, '#ffa500', 3.8, 'branch-b-x-point');
  drawCircles(g, s.c, panel, '#00bfff', 4.6, 'branch-c-point');
  drawCircles(g, s.d, panel, '#ff00ff', 4.6, 'branch-d-point');
  drawDiamonds(g, s.cu, panel, '#00bfff', 6.6, 'uncertain-branch-c-point');
}
drawSeries('marks-fm', panels[0], {af: fmBranchAF, a: fmBranchA, b: fmBranchB, bx: fmBranchBX, c: fmBranchC, d: fmBranchD, cu: fmUncertainC});
drawSeries('marks-om', panels[1], {af: omBranchAF, a: omBranchA, b: omBranchB, bx: omBranchBX, c: omBranchC, d: omBranchD, cu: omUncertainC});

const axesGroup = document.getElementById('axes');
function addLine(x1, y1, x2, y2, w, label) {
  const el = document.createElementNS(SVG_NS, 'line');
  
  
  el.setAttribute('x1', x1);
  el.setAttribute('y1', y1);
  el.setAttribute('x2', x2);
  el.setAttribute('y2', y2);
  el.setAttribute('stroke', '#000');
  el.setAttribute('stroke-width', w);
  axesGroup.appendChild(el);
}
function addTickLabel(x, y, anchor, exponent, label) {
  const el = document.createElementNS(SVG_NS, 'text');
  
  
  el.setAttribute('x', x);
  el.setAttribute('y', y);
  el.setAttribute('text-anchor', anchor);
  el.setAttribute('font-size', '31');
  const sup = document.createElementNS(SVG_NS, 'tspan');
  sup.setAttribute('font-size', '21.7');
  sup.setAttribute('dy', '-12');
  sup.textContent = exponent;
  el.appendChild(document.createTextNode('10'));
  el.appendChild(sup);
  axesGroup.appendChild(el);
}

panels.forEach(function (panel) {
  xMajorTicks.forEach(function (t) {
    const x = xScale(t);
    addLine(x, panel.bottom, x, panel.bottom - 16, 3, 'x-major-tick');
    addLine(x, panel.top, x, panel.top + 16, 3, 'x-major-tick');
  });
  xMinorTicks.forEach(function (t) {
    const x = xScale(t);
    addLine(x, panel.bottom, x, panel.bottom - 9, 2.2, 'x-minor-tick');
    addLine(x, panel.top, x, panel.top + 9, 2.2, 'x-minor-tick');
  });
  yMajorTicks.forEach(function (t, i) {
    const y = yScale(t, panel);
    addLine(plotLeft, y, plotLeft + 16, y, 3, 'y-major-tick');
    addLine(plotRight, y, plotRight - 16, y, 3, 'y-major-tick');
    addTickLabel(123, y + 12, 'end', yTickExponents[i], 'y-tick-label');
  });
  yMinorTicks.forEach(function (t) {
    const y = yScale(t, panel);
    addLine(plotLeft, y, plotLeft + 9, y, 2.2, 'y-minor-tick');
    addLine(plotRight, y, plotRight - 9, y, 2.2, 'y-minor-tick');
  });
  const frame = document.createElementNS(SVG_NS, 'rect');
  
  
  frame.setAttribute('x', plotLeft);
  frame.setAttribute('y', panel.top);
  frame.setAttribute('width', plotRight - plotLeft);
  frame.setAttribute('height', panel.bottom - panel.top);
  frame.setAttribute('fill', 'none');
  frame.setAttribute('stroke', '#000');
  frame.setAttribute('stroke-width', '3.4');
  axesGroup.appendChild(frame);
});
xMajorTicks.forEach(function (t, i) {
  addTickLabel(xScale(t) - 1, 66, 'middle', xTickExponents[i], 'top-x-tick-label');
  addTickLabel(xScale(t) - 1, 1387, 'middle', xTickExponents[i], 'bottom-x-tick-label');
});
</script>
</body>
</html>
